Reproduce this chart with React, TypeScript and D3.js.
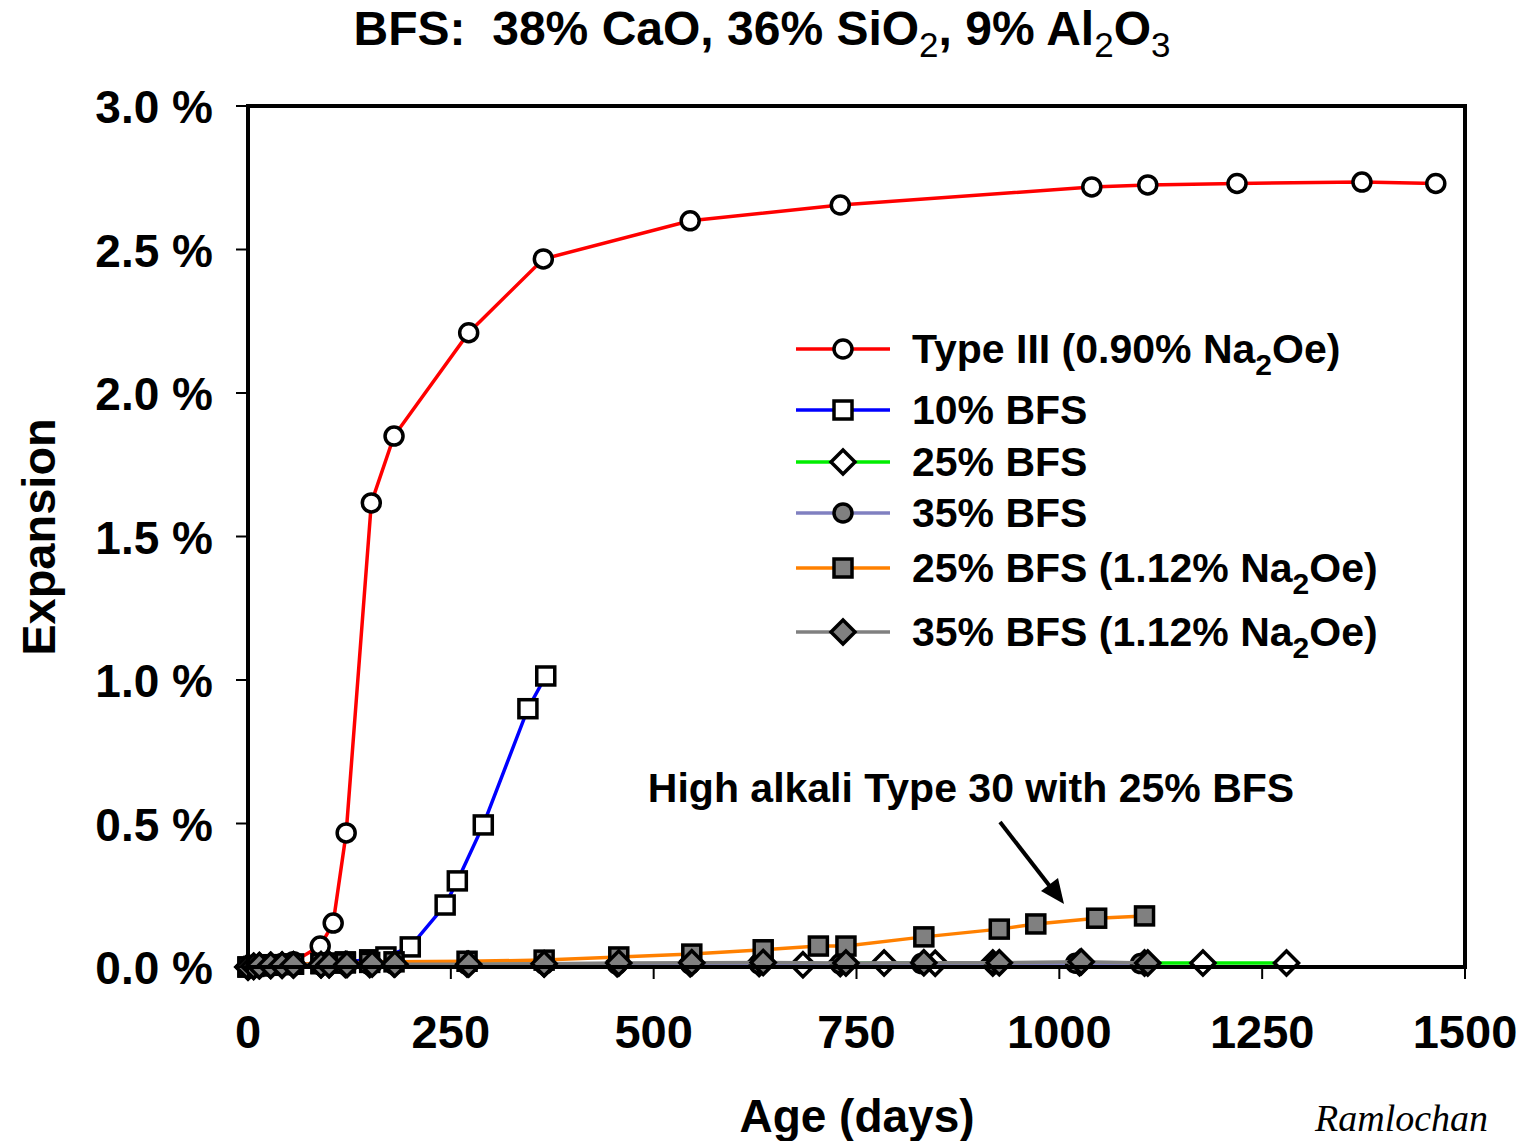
import React from "react";
import * as d3 from "d3";

const W = 1527;
const H = 1141;

// Series data: [age days, expansion %]
const typeIII: [number, number][] = [
  [0, 0], [7, 0.003], [14, 0.005], [28, 0.008], [42, 0.012], [56, 0.018],
  [89, 0.073], [105, 0.153], [121, 0.467], [152, 1.617], [180, 1.85],
  [272, 2.21], [364, 2.467], [545, 2.6], [730, 2.655], [1040, 2.718],
  [1109, 2.725], [1219, 2.73], [1373, 2.735], [1464, 2.73],
];
const bfs10: [number, number][] = [
  [0, 0], [7, 0.002], [14, 0.004], [28, 0.006], [42, 0.008], [56, 0.01],
  [90, 0.012], [100, 0.014], [120, 0.018], [150, 0.025], [170, 0.035],
  [200, 0.07], [243, 0.216], [258, 0.3], [290, 0.495], [345, 0.9], [367, 1.014],
];
const bfs25: [number, number][] = [
  [0, 0], [7, 0.002], [14, 0.004], [28, 0.005], [42, 0.006], [56, 0.007],
  [90, 0.008], [100, 0.008], [120, 0.009], [150, 0.009], [180, 0.01],
  [270, 0.01], [365, 0.01], [455, 0.011], [545, 0.011], [630, 0.012],
  [684, 0.008], [730, 0.012], [784, 0.014], [847, 0.013], [918, 0.014],
  [1025, 0.015], [1105, 0.014], [1177, 0.014], [1280, 0.014],
];
const bfs35: [number, number][] = [
  [0, 0], [14, 0.004], [28, 0.005], [56, 0.006], [90, 0.007], [120, 0.008],
  [150, 0.008], [180, 0.009], [270, 0.009], [365, 0.01], [455, 0.01],
  [545, 0.011], [630, 0.011], [730, 0.011], [830, 0.012], [920, 0.012],
  [1020, 0.013], [1100, 0.012],
];
const bfs25High: [number, number][] = [
  [0, 0], [14, 0.005], [28, 0.008], [56, 0.01], [90, 0.012], [120, 0.014],
  [150, 0.016], [180, 0.018], [270, 0.02], [365, 0.024], [457, 0.035],
  [547, 0.045], [635, 0.06], [703, 0.073], [737, 0.073], [833, 0.105],
  [926, 0.132], [971, 0.15], [1046, 0.17], [1105, 0.178],
];
const bfs35High: [number, number][] = [
  [0, 0], [7, 0.003], [14, 0.005], [28, 0.006], [42, 0.007], [56, 0.008],
  [90, 0.008], [100, 0.009], [122, 0.009], [153, 0.01], [181, 0.01],
  [272, 0.01], [365, 0.011], [457, 0.014], [547, 0.015], [635, 0.016],
  [737, 0.014], [833, 0.015], [926, 0.015], [1027, 0.018], [1109, 0.014],
];

const xTicks = [0, 250, 500, 750, 1000, 1250, 1500];
const yTicks = [0, 0.5, 1.0, 1.5, 2.0, 2.5, 3.0];

type Marker = "circle" | "square" | "diamond";
interface Series {
  name: string;
  sub?: string;
  tail?: string;
  data: [number, number][];
  color: string;
  marker: Marker;
  fill: string;
}

const series: Series[] = [
  { name: "Type III (0.90% Na", sub: "2", tail: "Oe)", data: typeIII, color: "#ff0000", marker: "circle", fill: "#ffffff" },
  { name: "10% BFS", data: bfs10, color: "#0000ff", marker: "square", fill: "#ffffff" },
  { name: "25% BFS", data: bfs25, color: "#00ee00", marker: "diamond", fill: "#ffffff" },
  { name: "35% BFS", data: bfs35, color: "#8080c0", marker: "circle", fill: "#808080" },
  { name: "25% BFS (1.12% Na", sub: "2", tail: "Oe)", data: bfs25High, color: "#ff8000", marker: "square", fill: "#808080" },
  { name: "35% BFS (1.12% Na", sub: "2", tail: "Oe)", data: bfs35High, color: "#808080", marker: "diamond", fill: "#808080" },
];

const legendY = [349, 410, 462, 513, 568, 632];

const FONT = "Liberation Sans, Arial, sans-serif";

function MarkerShape({ m, x, y, fill }: { m: Marker; x: number; y: number; fill: string }) {
  if (m === "circle") {
    return <circle cx={x} cy={y} r={9} fill={fill} stroke="#000" strokeWidth={3.5} />;
  }
  if (m === "square") {
    return <rect x={x - 9} y={y - 9} width={18} height={18} fill={fill} stroke="#000" strokeWidth={3.5} />;
  }
  const s = 12;
  return (
    <path
      d={`M${x},${y - s}L${x + s},${y}L${x},${y + s}L${x - s},${y}Z`}
      fill={fill}
      stroke="#000"
      strokeWidth={3.5}
      strokeLinejoin="miter"
    />
  );
}

export default function App() {
  const x = d3.scaleLinear().domain([0, 1500]).range([248, 1465]);
  const y = d3.scaleLinear().domain([0, 3]).range([967, 106]);
  const line = d3
    .line<[number, number]>()
    .x((d) => x(d[0]))
    .y((d) => y(d[1]));

  const [x0, x1] = x.range();
  const [y0, y1] = y.range();

  return (
    <svg
      width={W}
      height={H}
      viewBox={`0 0 ${W} ${H}`}
      style={{ position: "absolute", left: 0, top: 0, background: "#fff" }}
    >
      <rect width={W} height={H} fill="#fff" />
      {/* Title */}
      <text
        transform={`translate(762,45)`}
        textAnchor="middle"
        fontFamily={FONT}
        fontWeight="bold"
        fontSize={48}
        fill="#000"
        style={{ whiteSpace: "pre" }}
      >
        <tspan>{"BFS:\u00a0 38% CaO, 36% SiO"}</tspan>
        <tspan fontSize={35} fontWeight="normal" dy={12}>2</tspan>
        <tspan dy={-12}>, 9% Al</tspan>
        <tspan fontSize={35} fontWeight="normal" dy={12}>2</tspan>
        <tspan dy={-12}>O</tspan>
        <tspan fontSize={35} fontWeight="normal" dy={12}>3</tspan>
      </text>

      {/* Series */}
      {series.map((s, i) => (
        <g key={"s" + i}>
          <path d={line(s.data) || ""} fill="none" stroke={s.color} strokeWidth={3.5} />
          {s.data.map((d, j) => (
            <MarkerShape key={j} m={s.marker} x={x(d[0])} y={y(d[1])} fill={s.fill} />
          ))}
        </g>
      ))}

      {/* Frame */}
      <rect x={x0} y={y1} width={x1 - x0} height={y0 - y1} fill="none" stroke="#000" strokeWidth={4} />

      {/* Y ticks */}
      {yTicks.map((t) => (
        <g key={"y" + t}>
          <line x1={x0 - 12} x2={x0} y1={y(t)} y2={y(t)} stroke="#000" strokeWidth={2} />
          <text
            x={213}
            y={y(t) + 17}
            textAnchor="end"
            fontFamily={FONT}
            fontWeight="bold"
            fontSize={46}
          >
            {t.toFixed(1) + " %"}
          </text>
        </g>
      ))}

      {/* X ticks */}
      {xTicks.map((t) => (
        <g key={"x" + t}>
          <line x1={x(t)} x2={x(t)} y1={y0} y2={y0 + 12} stroke="#000" strokeWidth={2} />
          <text
            x={x(t)}
            y={1048}
            textAnchor="middle"
            fontFamily={FONT}
            fontWeight="bold"
            fontSize={47}
          >
            {t}
          </text>
        </g>
      ))}

      {/* Axis titles */}
      <text
        transform="translate(55,537) rotate(-90)"
        textAnchor="middle"
        fontFamily={FONT}
        fontWeight="bold"
        fontSize={47}
      >
        Expansion
      </text>
      <text x={857} y={1132} textAnchor="middle" fontFamily={FONT} fontWeight="bold" fontSize={46}>
        Age (days)
      </text>

      {/* Legend */}
      {series.map((s, i) => (
        <g key={"l" + i}>
          <line x1={796} x2={890} y1={legendY[i]} y2={legendY[i]} stroke={s.color} strokeWidth={3.5} />
          <MarkerShape m={s.marker} x={843} y={legendY[i]} fill={s.fill} />
          <text x={912} y={legendY[i] + 14} fontFamily={FONT} fontWeight="bold" fontSize={41}>
            <tspan>{s.name}</tspan>
            {s.sub && (
              <tspan fontSize={30} dy={12}>
                {s.sub}
              </tspan>
            )}
            {s.tail && <tspan dy={-12}>{s.tail}</tspan>}
          </text>
        </g>
      ))}

      {/* Annotation */}
      <text x={971} y={802} textAnchor="middle" fontFamily={FONT} fontWeight="bold" fontSize={41}>
        High alkali Type 30 with 25% BFS
      </text>
      <line x1={1000} y1={822} x2={1052} y2={889} stroke="#000" strokeWidth={4} />
      <path d="M1064,904 L1041,891 L1058,878 Z" fill="#000" />

      {/* Source */}
      <text x={1315} y={1131} fontFamily="Liberation Serif, Times New Roman, serif" fontStyle="italic" fontSize={38}>
        Ramlochan
      </text>
    </svg>
  );
}
